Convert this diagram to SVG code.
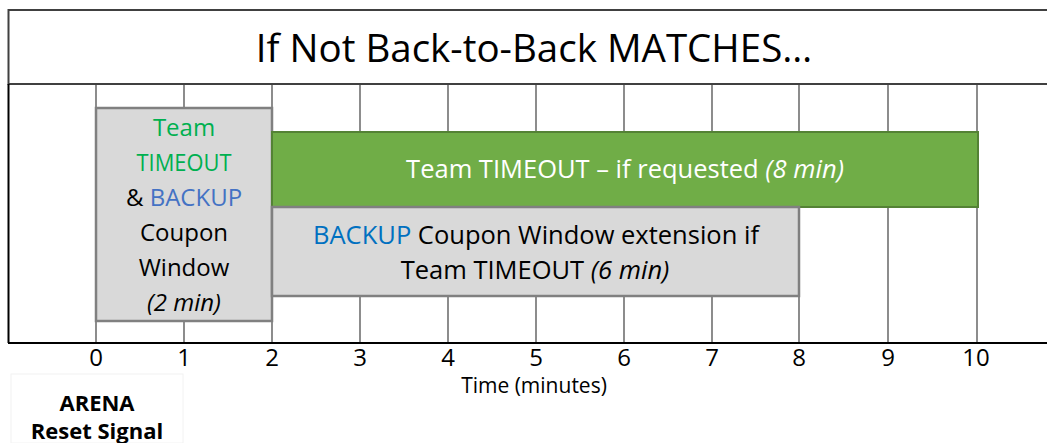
<svg xmlns="http://www.w3.org/2000/svg" width="1047" height="443" viewBox="0 0 1047 443">
<style>
text{font-family:"Open Sans","Noto Sans","Liberation Sans",sans-serif;}
.grid{stroke:#404040;stroke-width:1.2;}
.t{font-size:24px;fill:#000;text-anchor:middle;}
.bar{font-size:25.5px;fill:#000;text-anchor:middle;}
.tick{font-size:24px;fill:#000;text-anchor:middle;}
.g{fill:#00b050;}
.b1{fill:#4472c4;}
.b2{fill:#0070c0;}
.i{font-style:italic;}
.grey{fill:#d9d9d9;stroke:#808080;stroke-width:2.5;}
.lbl{font-size:22px;font-weight:bold;fill:#000;text-anchor:middle;}
</style>
<rect width="1047" height="443" fill="#fff"/>
<g id="title">
<path d="M1047,10 H8.5 V84 H1047" fill="none" stroke="#404040" stroke-width="2"/>
<text x="534" y="62" style="font-size:38.5px;fill:#000;text-anchor:middle">If Not Back-to-Back MATCHES…</text>
</g>
<g id="grid">
<line x1="8.5" y1="84" x2="8.5" y2="343" stroke="#000" stroke-width="2"/>
<line class="grid" x1="96" y1="84" x2="96" y2="343"/>
<line class="grid" x1="184" y1="84" x2="184" y2="343"/>
<line class="grid" x1="272" y1="84" x2="272" y2="343"/>
<line class="grid" x1="360" y1="84" x2="360" y2="343"/>
<line class="grid" x1="448" y1="84" x2="448" y2="343"/>
<line class="grid" x1="536" y1="84" x2="536" y2="343"/>
<line class="grid" x1="624" y1="84" x2="624" y2="343"/>
<line class="grid" x1="712" y1="84" x2="712" y2="343"/>
<line class="grid" x1="799" y1="84" x2="799" y2="343"/>
<line class="grid" x1="888" y1="84" x2="888" y2="343"/>
<line class="grid" x1="977" y1="84" x2="977" y2="343"/>
<line x1="8" y1="343" x2="1047" y2="343" stroke="#000" stroke-width="2"/>
</g>
<g id="ticks">
<text class="tick" x="96" y="366">0</text>
<text class="tick" x="184" y="366">1</text>
<text class="tick" x="272" y="366">2</text>
<text class="tick" x="360" y="366">3</text>
<text class="tick" x="448" y="366">4</text>
<text class="tick" x="536" y="366">5</text>
<text class="tick" x="624" y="366">6</text>
<text class="tick" x="712" y="366">7</text>
<text class="tick" x="799" y="366">8</text>
<text class="tick" x="888" y="366">9</text>
<text class="tick" x="976" y="366">10</text>
<text x="534" y="393" style="font-size:21px;fill:#000;text-anchor:middle">Time (minutes)</text>
</g>
<g id="coupon-window">
<rect class="grey" x="96" y="108" width="176" height="213"/>
<text class="t g" x="184" y="136">Team</text>
<text class="t g" x="184" y="171" textLength="95" lengthAdjust="spacingAndGlyphs">TIMEOUT</text>
<text class="t" x="184" y="206">&amp; <tspan class="b1">BACKUP</tspan></text>
<text class="t" x="184" y="241">Coupon</text>
<text class="t" x="184" y="276">Window</text>
<text class="t i" x="184" y="311">(2 min)</text>
</g>
<g id="team-timeout">
<rect x="272" y="132" width="706" height="75" fill="#70ad47" stroke="#548235" stroke-width="2"/>
<text class="bar" x="625" y="178" style="fill:#fff">Team TIMEOUT – if requested <tspan class="i">(8 min)</tspan></text>
</g>
<g id="backup-extension">
<rect class="grey" x="272" y="207" width="527" height="89"/>
<text class="bar" x="536" y="244"><tspan class="b2">BACKUP</tspan> Coupon Window extension if</text>
<text class="bar" x="535" y="279">Team TIMEOUT <tspan class="i">(6 min)</tspan></text>
</g>
<g id="arena-reset">
<rect x="11" y="374" width="172" height="69" fill="#fff" stroke="#f2f2f2" stroke-width="1"/>
<text class="lbl" x="97" y="411">ARENA</text>
<text class="lbl" x="97" y="439">Reset Signal</text>
</g>
</svg>
